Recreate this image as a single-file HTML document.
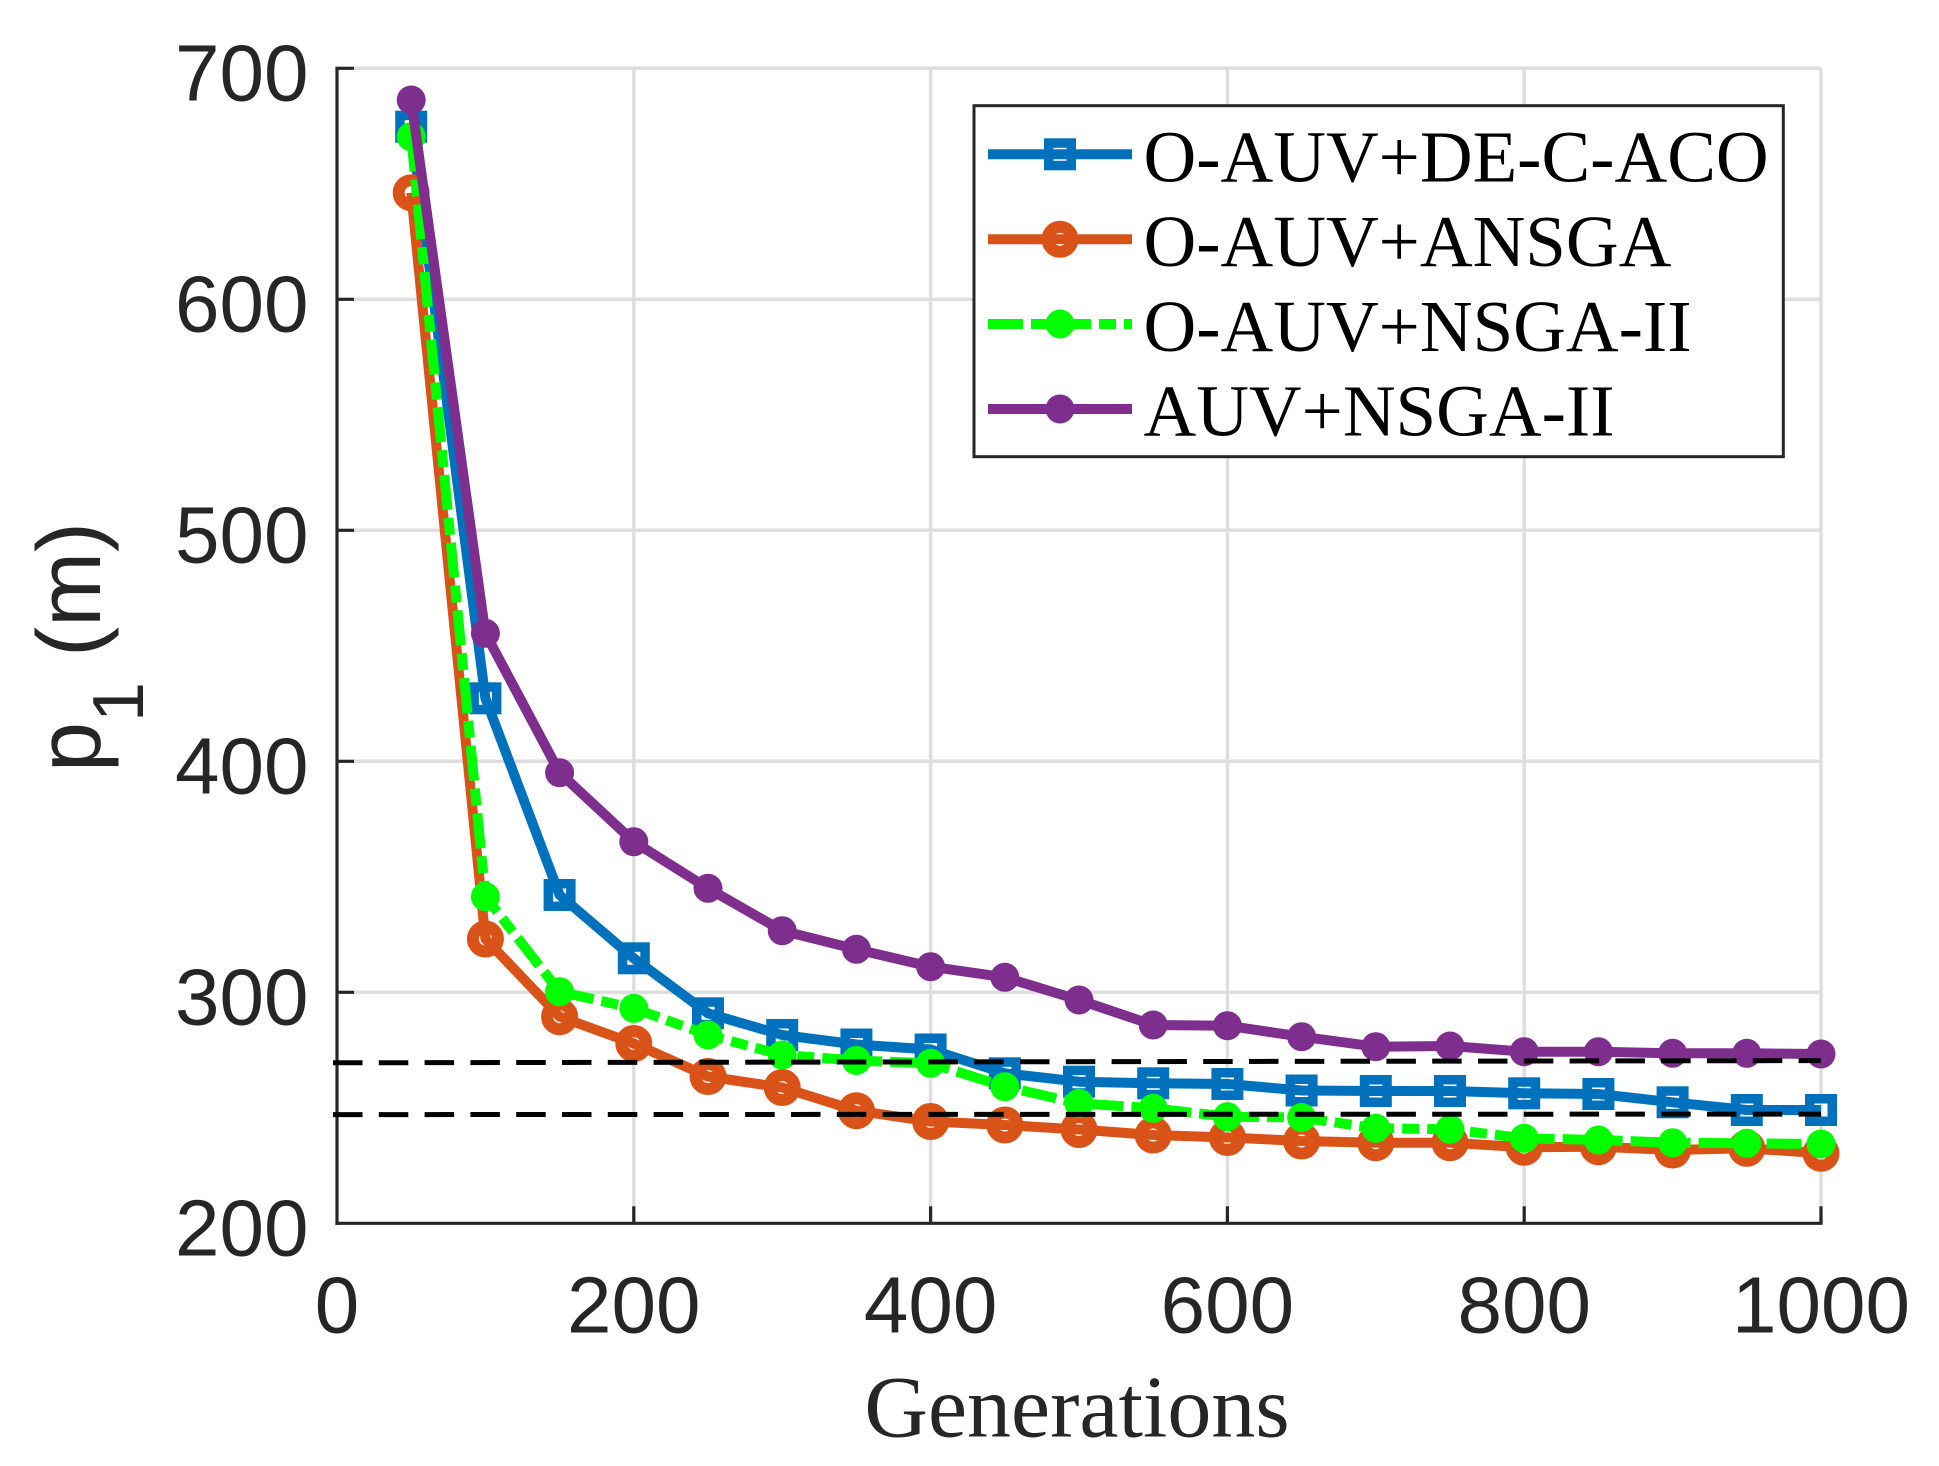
<!DOCTYPE html>
<html>
<head>
<meta charset="utf-8">
<style>
html,body{margin:0;padding:0;background:#fff;}
svg{display:block;}
</style>
</head>
<body>
<svg width="1939" height="1466" viewBox="0 0 1939 1466" xmlns="http://www.w3.org/2000/svg">
<defs>
  <marker id="mSq" markerUnits="userSpaceOnUse" markerWidth="40" markerHeight="40" refX="20" refY="20" orient="0" overflow="visible">
    <rect x="8.75" y="8.75" width="22.5" height="22.5" fill="none" stroke="#0072BD" stroke-width="9.5"/>
  </marker>
  <marker id="mCi" markerUnits="userSpaceOnUse" markerWidth="40" markerHeight="40" refX="20" refY="20" orient="0" overflow="visible">
    <circle cx="20" cy="20" r="12.5" fill="none" stroke="#D95319" stroke-width="12" stroke-dasharray="none"/>
  </marker>
  <marker id="mGr" markerUnits="userSpaceOnUse" markerWidth="40" markerHeight="40" refX="20" refY="20" orient="0" overflow="visible">
    <circle cx="20" cy="20" r="14.5" fill="#00FF00" stroke="none"/>
  </marker>
  <marker id="mPu" markerUnits="userSpaceOnUse" markerWidth="40" markerHeight="40" refX="20" refY="20" orient="0" overflow="visible">
    <circle cx="20" cy="20" r="14.5" fill="#7E2F8E" stroke="none"/>
  </marker>
</defs>

<rect x="0" y="0" width="1939" height="1466" fill="#ffffff"/>

<!-- grid -->
<g stroke="#dedede" stroke-width="3.5" fill="none">
  <line x1="633.8" y1="68.3" x2="633.8" y2="1223.3"/>
  <line x1="930.6" y1="68.3" x2="930.6" y2="1223.3"/>
  <line x1="1227.4" y1="68.3" x2="1227.4" y2="1223.3"/>
  <line x1="1524.2" y1="68.3" x2="1524.2" y2="1223.3"/>
  <line x1="1821" y1="68.3" x2="1821" y2="1223.3"/>
  <line x1="337" y1="68.3" x2="1821" y2="68.3"/>
  <line x1="337" y1="299.3" x2="1821" y2="299.3"/>
  <line x1="337" y1="530.3" x2="1821" y2="530.3"/>
  <line x1="337" y1="761.3" x2="1821" y2="761.3"/>
  <line x1="337" y1="992.3" x2="1821" y2="992.3"/>
</g>

<!-- axes -->
<g stroke="#262626" stroke-width="3.2" fill="none">
  <line x1="337" y1="66.7" x2="337" y2="1224.9"/>
  <line x1="335.4" y1="1223.3" x2="1822.6" y2="1223.3"/>
  <line x1="337" y1="68.3" x2="354" y2="68.3"/>
  <line x1="337" y1="299.3" x2="354" y2="299.3"/>
  <line x1="337" y1="530.3" x2="354" y2="530.3"/>
  <line x1="337" y1="761.3" x2="354" y2="761.3"/>
  <line x1="337" y1="992.3" x2="354" y2="992.3"/>
  <line x1="633.8" y1="1223.3" x2="633.8" y2="1206.3"/>
  <line x1="930.6" y1="1223.3" x2="930.6" y2="1206.3"/>
  <line x1="1227.4" y1="1223.3" x2="1227.4" y2="1206.3"/>
  <line x1="1524.2" y1="1223.3" x2="1524.2" y2="1206.3"/>
  <line x1="1821" y1="1223.3" x2="1821" y2="1206.3"/>
</g>

<!-- tick labels -->
<g font-family="'Liberation Sans', Arial, sans-serif" font-size="80" fill="#262626">
  <text x="308.5" y="100.3" text-anchor="end">700</text>
  <text x="308.5" y="331.3" text-anchor="end">600</text>
  <text x="308.5" y="562.3" text-anchor="end">500</text>
  <text x="308.5" y="793.3" text-anchor="end">400</text>
  <text x="308.5" y="1024.3" text-anchor="end">300</text>
  <text x="308.5" y="1255.3" text-anchor="end">200</text>
  <text x="337" y="1332.3" text-anchor="middle">0</text>
  <text x="633.8" y="1332.3" text-anchor="middle">200</text>
  <text x="930.6" y="1332.3" text-anchor="middle">400</text>
  <text x="1227.4" y="1332.3" text-anchor="middle">600</text>
  <text x="1524.2" y="1332.3" text-anchor="middle">800</text>
  <text x="1821" y="1332.3" text-anchor="middle">1000</text>
</g>

<!-- axis labels -->
<text x="1077" y="1436.7" text-anchor="middle" font-family="'Liberation Serif', 'Times New Roman', serif" font-size="88" fill="#262626">Generations</text>
<text transform="translate(100,772) rotate(-90)" x="0" y="0" font-family="'Liberation Sans', Arial, sans-serif" font-size="90" fill="#262626">p<tspan font-size="72" dy="43">1</tspan><tspan dy="-43"> (m)</tspan></text>

<!-- series -->
<g fill="none" stroke-width="10" stroke-linejoin="round" stroke-linecap="butt">
  <polyline stroke="#0072BD" marker-start="url(#mSq)" marker-mid="url(#mSq)" marker-end="url(#mSq)"
    points="411.2,126.7 485.4,698.3 559.6,895 633.8,958.3 708,1013.3 782.2,1035 856.4,1044.5 930.6,1049.5 1004.8,1073.3 1079,1081.7 1153.2,1083.3 1227.4,1084 1301.6,1090.5 1375.8,1091 1450,1091 1524.2,1093.3 1598.4,1094 1672.6,1102.3 1746.8,1110 1821,1110"/>
  <polyline stroke="#D95319" marker-start="url(#mCi)" marker-mid="url(#mCi)" marker-end="url(#mCi)"
    points="411.2,192.7 485.4,939 559.6,1016.7 633.8,1043.5 708,1076.5 782.2,1087.5 856.4,1110.7 930.6,1121.5 1004.8,1125 1079,1129.5 1153.2,1135 1227.4,1137.5 1301.6,1141 1375.8,1142.7 1450,1142.7 1524.2,1147.3 1598.4,1146.7 1672.6,1150 1746.8,1148.3 1821,1153.3"/>
  <polyline stroke="#00FF00" stroke-dasharray="35 8 17 8" stroke-linejoin="miter" marker-start="url(#mGr)" marker-mid="url(#mGr)" marker-end="url(#mGr)"
    points="411.2,136.7 485.4,896.7 559.6,991.7 633.8,1008.3 708,1035 782.2,1055 856.4,1060.5 930.6,1063.3 1004.8,1086.7 1079,1103.3 1153.2,1108.3 1227.4,1116.7 1301.6,1117.5 1375.8,1128.3 1450,1129.3 1524.2,1138.3 1598.4,1140 1672.6,1142.7 1746.8,1143.3 1821,1144"/>
  <polyline stroke="#7E2F8E" marker-start="url(#mPu)" marker-mid="url(#mPu)" marker-end="url(#mPu)"
    points="411.2,100 485.4,633.3 559.6,772.7 633.8,841.7 708,888.3 782.2,930.7 856.4,949.3 930.6,966.7 1004.8,977.3 1079,1000 1153.2,1025 1227.4,1025.7 1301.6,1036.7 1375.8,1046.7 1450,1046 1524.2,1051.7 1598.4,1051.7 1672.6,1053.3 1746.8,1053.3 1821,1054"/>
</g>

<!-- reference dashed lines -->
<g stroke="#000" stroke-width="5" stroke-dasharray="29.5 16.3" fill="none">
  <line x1="333" y1="1062.8" x2="1821" y2="1060.6"/>
  <line x1="333" y1="1114.6" x2="1821" y2="1114.1"/>
</g>

<!-- legend -->
<rect x="974" y="105.7" width="809.3" height="351" fill="#ffffff" stroke="#262626" stroke-width="3"/>
<g fill="none" stroke-width="10">
  <line x1="988" y1="154.3" x2="1132" y2="154.3" stroke="#0072BD"/>
  <rect x="1048.75" y="143.05" width="22.5" height="22.5" stroke="#0072BD" stroke-width="9.5"/>
  <line x1="988" y1="239.3" x2="1132" y2="239.3" stroke="#D95319"/>
  <circle cx="1060" cy="239.3" r="12.5" stroke="#D95319" stroke-width="12"/>
  <line x1="988" y1="324" x2="1132" y2="324" stroke="#00FF00" stroke-dasharray="35 8 17 8"/>
  <circle cx="1060" cy="324" r="14.5" fill="#00FF00" stroke="none"/>
  <line x1="988" y1="409" x2="1132" y2="409" stroke="#7E2F8E"/>
  <circle cx="1060" cy="409" r="14.5" fill="#7E2F8E" stroke="none"/>
</g>
<g font-family="'Liberation Serif', 'Times New Roman', serif" font-size="73" fill="#000">
  <text x="1143.5" y="181.5">O-AUV+DE-C-ACO</text>
  <text x="1143.5" y="266">O-AUV+ANSGA</text>
  <text x="1143.5" y="351">O-AUV+NSGA-II</text>
  <text x="1143.5" y="435.7">AUV+NSGA-II</text>
</g>
</svg>
</body>
</html>
